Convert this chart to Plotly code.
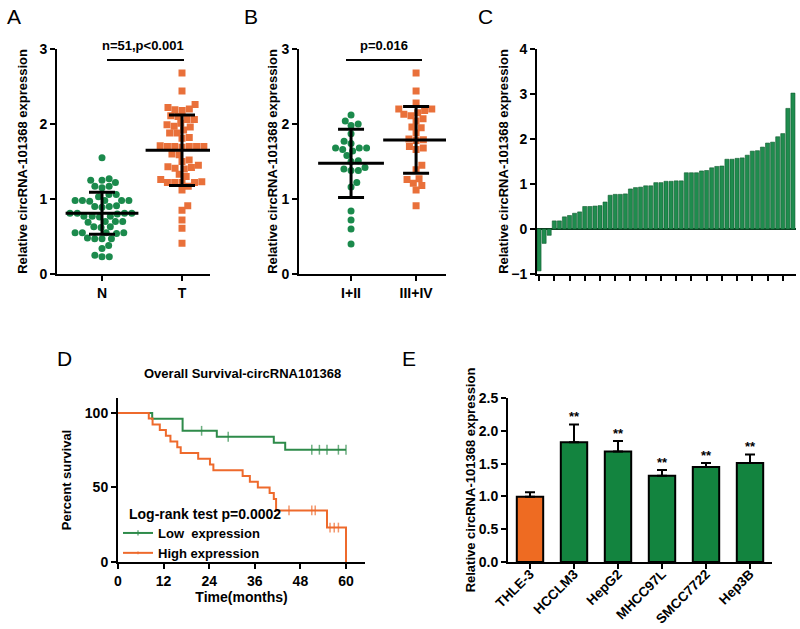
import numpy as np
import plotly.graph_objects as go

W, H = 800, 629
FONT = "Liberation Sans, Arial, sans-serif"
GREEN = "#1b8a4c"
ORANGE = "#e9703a"

# ---------------- Panel A data ----------------
a_groups = ["N", "T"]
a_normal = [1.55, 1.27, 1.25, 1.25, 1.22, 1.17, 1.17, 1.15, 1.06, 1.06, 1.03,
            0.98, 0.98, 0.98, 0.98, 0.98, 0.97, 0.91, 0.90, 0.90, 0.89,
            0.81, 0.81, 0.81, 0.80, 0.81, 0.77, 0.77, 0.77, 0.76,
            0.70, 0.70, 0.70, 0.69, 0.63, 0.63, 0.62,
            0.55, 0.55, 0.55, 0.54, 0.55, 0.47, 0.47, 0.48, 0.47,
            0.38, 0.34, 0.25, 0.23, 0.23]
a_tumor = [2.68, 2.44, 2.26, 2.22, 2.20, 2.19, 2.18, 2.11, 2.10, 2.06, 2.06,
           2.01, 1.99, 1.97, 1.96, 1.92, 1.88, 1.88, 1.82, 1.81,
           1.71, 1.70, 1.70, 1.70, 1.70, 1.70, 1.69, 1.60, 1.59, 1.52,
           1.50, 1.45, 1.43, 1.42, 1.41, 1.40, 1.33, 1.30,
           1.26, 1.23, 1.22, 1.22, 1.22, 1.22, 1.17, 1.12,
           0.91, 0.85, 0.72, 0.61, 0.41]
a_mean = [0.81, 1.65]
a_sd = [0.28, 0.47]
a_title = "n=51,p<0.001"

# ---------------- Panel B data ----------------
b_groups = ["I+II", "III+IV"]
b_early = [2.12, 2.04, 2.00, 1.98, 1.87, 1.77, 1.74, 1.68, 1.68, 1.68, 1.66,
           1.64, 1.58, 1.51, 1.50, 1.42, 1.40, 1.38, 1.38, 1.22, 1.16,
           0.84, 0.72, 0.60, 0.40]
b_late = [2.68, 2.44, 2.28, 2.20, 2.20, 2.18, 2.15, 2.13, 2.11, 2.07, 2.04,
          1.96, 1.95, 1.88, 1.80, 1.79, 1.78, 1.70, 1.68, 1.66, 1.45, 1.39,
          1.27, 1.26, 1.21, 1.18, 1.12, 0.91]
b_mean = [1.476, 1.787]
b_sd = [0.455, 0.445]
b_title = "p=0.016"

# ---------------- Panel C data ----------------
c_values = [-0.93, -0.32, -0.14, 0.18, 0.18, 0.27, 0.30, 0.35, 0.38, 0.50,
            0.50, 0.51, 0.52, 0.60, 0.75, 0.77, 0.77, 0.78, 0.89, 0.92,
            0.93, 0.96, 0.96, 1.03, 1.03, 1.06, 1.06, 1.07, 1.07, 1.25,
            1.25, 1.25, 1.29, 1.30, 1.36, 1.39, 1.40, 1.55, 1.55, 1.57,
            1.58, 1.64, 1.73, 1.74, 1.82, 1.91, 1.93, 2.05, 2.12, 2.68, 3.02]

# ---------------- Panel D data ----------------
low_t = [0, 9.0, 17.0, 22.0, 26.0, 29.0, 41.0, 44.0, 51.0, 53.0, 55.0, 58.0, 60.0]
low_s = [100, 96, 88, 88, 84, 84, 80, 75.3, 75.3, 75.3, 75.3, 75.3, 75.3]
low_cens = [0, 0, 0, 1, 0, 1, 0, 0, 1, 1, 1, 1, 1]
high_t = [0, 8.1, 9.1, 11.0, 12.6, 13.8, 15.6, 16.5, 21.1, 24.2, 25.1, 32.8,
          34.7, 36.8, 39.9, 41.0, 41.6, 45.0, 51.0, 51.9, 55.0, 55.8, 56.9,
          58.0, 60.0]
high_s = [100, 96.2, 92.3, 88.5, 84.6, 80.8, 76.9, 73.1, 69.2, 65.4, 61.5,
          57.7, 53.8, 50.0, 46.2, 42.3, 34.6, 34.6, 34.6, 34.6, 23.1, 23.1,
          23.1, 23.1, 0]
high_cens = [0] * 17 + [1, 1, 1, 0, 1, 1, 1, 0]
d_title = "Overall Survival-circRNA101368"
d_logrank = "Log-rank test p=0.0002"

# ---------------- Panel E data ----------------
e_cells = ["THLE-3", "HCCLM3", "HepG2", "MHCC97L", "SMCC7722", "Hep3B"]
e_values = [0.995, 1.826, 1.684, 1.314, 1.45, 1.51]
e_err = [0.07, 0.27, 0.16, 0.09, 0.06, 0.13]
e_sig = ["", "**", "**", "**", "**", "**"]

YTITLE = "Relative circRNA-101368 expression"


def px(v):
    return v / W


def py(v):
    return 1 - v / H


def swarm(vals, ppx, ppy, d=7.3):
    placed = []
    offs = [0.0] * len(vals)
    for i in sorted(range(len(vals)), key=lambda k: vals[k]):
        y = vals[i] * ppy
        cands = [0.0]
        for xp, yp in placed:
            dy = abs(y - yp)
            if dy < d:
                dx = (d * d - dy * dy) ** 0.5
                cands += [xp + dx, xp - dx]
        cands.sort(key=abs)
        chosen = 0.0
        for c in cands:
            if all((c - xp) ** 2 + (y - yp) ** 2 >= d * d - 1e-6 for xp, yp in placed):
                chosen = c
                break
        placed.append((chosen, y))
        offs[i] = chosen / ppx
    return offs


def axis(**kw):
    base = dict(showline=True, linecolor="black", linewidth=2, ticks="outside",
                ticklen=5, tickwidth=2, tickcolor="black", showgrid=False,
                zeroline=False, fixedrange=True, automargin=False,
                tickfont=dict(family=FONT, size=14, color="black", weight="bold"))
    base.update(kw)
    return base


def ytitle(text, standoff):
    return dict(text=text, font=dict(family=FONT, size=13, color="black", weight="bold"),
                standoff=standoff)


fig = go.Figure()

# ---------- A ----------
for gi, (vals, sym, col) in enumerate([(a_normal, "circle", GREEN), (a_tumor, "square", ORANGE)]):
    offs = swarm(vals, 80, 75)
    fig.add_trace(go.Scatter(x=[gi + o for o in offs], y=vals, mode="markers",
                             marker=dict(symbol=sym, size=7, color=col),
                             xaxis="x", yaxis="y", showlegend=False))
fig.add_trace(go.Scatter(x=[0, 1], y=a_mean, mode="markers",
                         marker=dict(symbol="line-ew", size=52, line=dict(width=3, color="black")),
                         error_y=dict(type="data", array=a_sd, width=13, thickness=3, color="black"),
                         xaxis="x", yaxis="y", showlegend=False))

# ---------- B ----------
for gi, (vals, sym, col) in enumerate([(b_early, "circle", GREEN), (b_late, "square", ORANGE)]):
    offs = swarm(vals, 65, 75)
    fig.add_trace(go.Scatter(x=[gi + o for o in offs], y=vals, mode="markers",
                             marker=dict(symbol=sym, size=7, color=col),
                             xaxis="x2", yaxis="y2", showlegend=False))
fig.add_trace(go.Scatter(x=[0, 1], y=b_mean, mode="markers",
                         marker=dict(symbol="line-ew", size=47, line=dict(width=3, color="black")),
                         error_y=dict(type="data", array=b_sd, width=13, thickness=3, color="black"),
                         xaxis="x2", yaxis="y2", showlegend=False))

# ---------- C ----------
fig.add_trace(go.Bar(x=list(range(len(c_values))), y=c_values, width=0.8,
                     marker=dict(color="#1f8c4e", line=dict(color="#0f5a2e", width=0.6)),
                     xaxis="x3", yaxis="y3", showlegend=False))

# ---------- D ----------
fig.add_trace(go.Scatter(x=low_t, y=low_s, mode="lines+markers", line=dict(shape="hv", color="#2e8b4a", width=2),
                         marker=dict(symbol="line-ns-open", size=[7 if c else 0 for c in low_cens],
                                     line=dict(width=1.5, color="#2e8b4a")),
                         name="Low  expression", xaxis="x4", yaxis="y4", showlegend=True))
fig.add_trace(go.Scatter(x=high_t, y=high_s, mode="lines+markers", line=dict(shape="hv", color="#ee6a2c", width=2),
                         marker=dict(symbol="line-ns-open", size=[7 if c else 0 for c in high_cens],
                                     line=dict(width=1.5, color="#ee6a2c")),
                         name="High expression", xaxis="x4", yaxis="y4", showlegend=True))

# ---------- E ----------
fig.add_trace(go.Bar(x=list(range(len(e_cells))), y=e_values, width=0.6,
                     marker=dict(color=["#ee6b22"] + ["#13843f"] * 5, line=dict(color="black", width=2)),
                     error_y=dict(type="data", array=e_err, arrayminus=[0] * len(e_err),
                                  symmetric=False, width=5, thickness=2, color="black"),
                     xaxis="x5", yaxis="y5", showlegend=False))
fig.add_trace(go.Scatter(x=list(range(len(e_cells))), y=[v + e for v, e in zip(e_values, e_err)],
                         text=e_sig, mode="text", textposition="top center",
                         textfont=dict(family=FONT, size=13, color="black", weight="bold"),
                         xaxis="x5", yaxis="y5", showlegend=False))

ydomTop = [py(274), py(49)]
ydomBot = [py(562), py(398)]

fig.update_layout(
    width=W, height=H, margin=dict(l=0, r=0, t=0, b=0),
    paper_bgcolor="white", plot_bgcolor="white",
    font=dict(family=FONT, color="black"),
    bargap=0,
    xaxis=axis(domain=[px(57), px(210)], range=[-0.5625, 1.35], tickvals=[0, 1],
               ticktext=a_groups, anchor="y"),
    yaxis=axis(domain=ydomTop, range=[0, 3], tickvals=[0, 1, 2, 3], anchor="x",
               title=ytitle(YTITLE, 9)),
    xaxis2=axis(domain=[px(299), px(446)], range=[-0.8, 1.46], tickvals=[0, 1],
                ticktext=b_groups, anchor="y2"),
    yaxis2=axis(domain=ydomTop, range=[0, 3], tickvals=[0, 1, 2, 3], anchor="x2",
                title=ytitle(YTITLE, 1)),
    xaxis3=axis(domain=[px(537), px(796)], range=[-0.4, 50.6],
                tickvals=list(range(0, len(c_values), 3)), showticklabels=False, anchor="y3"),
    yaxis3=axis(domain=ydomTop, range=[-1, 4], tickvals=[-1, 0, 1, 2, 3, 4], anchor="x3",
                zeroline=True, zerolinecolor="#0f3d22", zerolinewidth=2,
                title=ytitle(YTITLE, 0)),
    xaxis4=axis(domain=[px(118), px(365)], range=[0, 65], tickvals=[0, 12, 24, 36, 48, 60],
                anchor="y4", title=dict(text="Time(months)", standoff=1,
                                        font=dict(family=FONT, size=14, color="black", weight="bold"))),
    yaxis4=axis(domain=ydomBot, range=[0, 110], tickvals=[0, 50, 100], anchor="x4",
                title=ytitle("Percent survival", 10)),
    xaxis5=axis(domain=[px(508), px(772)], range=[-0.5, 5.5], tickvals=list(range(len(e_cells))),
                ticktext=e_cells, tickangle=-45, anchor="y5", ticklabelstandoff=-8,
                tickfont=dict(family=FONT, size=13.5, color="black", weight="bold")),
    yaxis5=axis(domain=ydomBot, range=[0, 2.5], tickvals=[0, 0.5, 1, 1.5, 2, 2.5],
                tickformat=".1f", anchor="x5", title=ytitle(YTITLE, 0)),
    legend=dict(x=px(118), y=py(518), xanchor="left", yanchor="top",
                bgcolor="rgba(0,0,0,0)", borderwidth=0, tracegroupgap=0,
                itemsizing="trace", itemwidth=30,
                font=dict(family=FONT, size=13, color="black", weight="bold")),
)

annotations = [
    dict(text="A", x=px(5), y=py(16), xanchor="left", yanchor="middle"),
    dict(text="B", x=px(242), y=py(16), xanchor="left", yanchor="middle"),
    dict(text="C", x=px(476), y=py(16), xanchor="left", yanchor="middle"),
    dict(text="D", x=px(55), y=py(358), xanchor="left", yanchor="middle"),
    dict(text="E", x=px(400), y=py(358), xanchor="left", yanchor="middle"),
]
for a in annotations:
    a.update(xref="paper", yref="paper", showarrow=False,
             font=dict(family=FONT, size=21, color="black"))
    fig.add_annotation(**a)

for txt, cx, cy in [(a_title, 143, 45), (b_title, 384, 45), (d_title, 242, 373)]:
    fig.add_annotation(text=txt, x=px(cx), y=py(cy), xref="paper", yref="paper",
                       showarrow=False, xanchor="center", yanchor="middle",
                       font=dict(family=FONT, size=13, color="black", weight="bold"))

fig.add_annotation(text=d_logrank, x=px(127), y=py(514), xref="paper", yref="paper",
                   showarrow=False, xanchor="left", yanchor="middle",
                   font=dict(family=FONT, size=14, color="black", weight="bold"))

for x0, x1 in [(107, 184), (346, 422)]:
    fig.add_shape(type="line", xref="paper", yref="paper", x0=px(x0), x1=px(x1),
                  y0=py(60), y1=py(60), line=dict(color="black", width=2))

fig.write_html("out.html", config={"displayModeBar": False, "staticPlot": True},
               post_script="document.body.style.margin='0';document.body.style.overflow='hidden';")
